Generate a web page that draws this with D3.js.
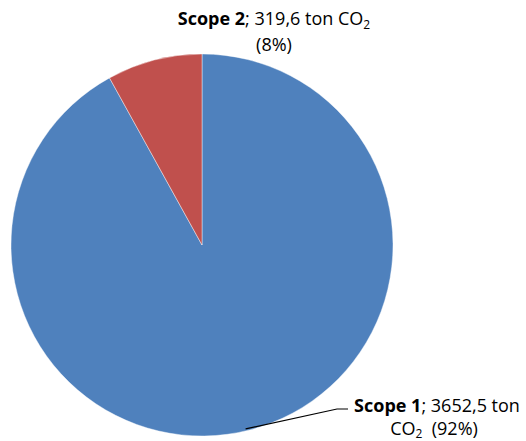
<!DOCTYPE html>
<html><head><meta charset="utf-8">
<script src="https://cdn.jsdelivr.net/npm/d3@7"></script>
<style>body{margin:0;background:#fff}svg{display:block}text{font-family:"Open Sans",Lato,sans-serif;font-size:18px;fill:#000}</style>
</head><body>
<svg id="c" width="526" height="441"></svg>
<script>
const categories = ["Scope 1", "Scope 2"];
const values = [3652.5, 319.6];
const valueLabels = ["3652,5", "319,6"];
const percentLabels = ["92%", "8%"];
const colors = ["#4F81BD", "#C0504D"];

const svg = d3.select("#c");
const cx = 202, cy = 245, r = 191;
const g = svg.append("g").attr("transform", `translate(${cx},${cy})`);
const pie = d3.pie().sort(null).value(d => d)(values);
const arc = d3.arc().innerRadius(0).outerRadius(r);
g.selectAll("path").data(pie).join("path")
  .attr("d", arc).attr("fill", (d,i) => colors[i])
  .attr("stroke", "#fff").attr("stroke-width", 0.6).attr("stroke-opacity", 0.7);

// leader line for Scope 1
const a1 = (pie[0].startAngle + pie[0].endAngle) / 2 + 0.02;
const p0 = [cx + Math.sin(a1) * (r - 2), cy - Math.cos(a1) * (r - 2)];
svg.append("polyline")
  .attr("points", [p0, [337, 409], [348, 409]].map(p => p.join(",")).join(" "))
  .attr("fill", "none").attr("stroke", "#000").attr("stroke-width", 1.2);

function label(i, x, y1, y2, breakAfterTon, x2) {
  const t = svg.append("text").attr("text-anchor", "middle");
  const l1 = t.append("tspan").attr("x", x).attr("y", y1);
  l1.append("tspan").attr("font-weight", "bold").text(categories[i]);
  l1.append("tspan").text("; " + valueLabels[i] + " ton" + (breakAfterTon ? "" : " CO"));
  if (!breakAfterTon) {
    l1.append("tspan").attr("font-size", "12px").attr("dy", 4).text("2");
    t.append("tspan").attr("x", x2).attr("y", y2).text("(" + percentLabels[i] + ")");
  } else {
    const l2 = t.append("tspan").attr("x", x2).attr("y", y2);
    l2.append("tspan").text("CO");
    l2.append("tspan").attr("font-size", "12px").attr("dy", 3).text("2");
    l2.append("tspan").attr("dy", -3).text("\u00a0 (" + percentLabels[i] + ")");
  }
}
label(1, 274, 25, 51, false, 274);
label(0, 437, 412, 435, true, 434);
</script>
</body></html>
